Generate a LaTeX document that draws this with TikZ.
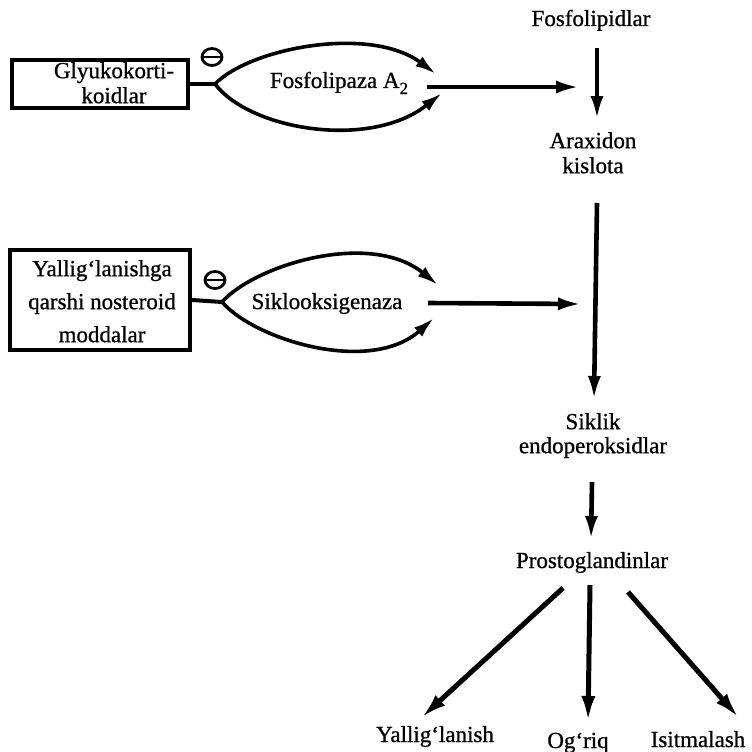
\documentclass[tikz,border=0pt]{standalone}
\usepackage{fontspec}
\setmainfont{Liberation Serif}[FakeBold=0.8]
\usetikzlibrary{arrows.meta}
\tikzset{
  lbl/.style={inner sep=0pt, font=\fontsize{23}{25}\selectfont, align=center},
  boxnode/.style={draw, line width=4pt, inner sep=0pt},
  lens/.style={line width=3.6pt, -{Latex[length=21pt,width=12pt]}},
  flow/.style={line width=4.6pt, -{Latex[length=24pt,width=13pt]}},
  branch/.style={line width=5pt, -{Latex[length=26pt,width=14pt]}},
  stub/.style={line width=4pt},
  minusring/.style={line width=2.8pt}
}
\begin{document}
\begin{tikzpicture}[x=1pt,y=-1pt]
\useasboundingbox (0,0) rectangle (752,752);
% main chain
\node[lbl, anchor=base] (fos) at (591,26) {Fosfolipidlar};
\node[lbl, anchor=north] (arax) at (593,132) {Araxidon\\kislota};
\node[lbl, anchor=north, font=\fontsize{23}{24}\selectfont] (sik) at (593,413) {Siklik\\endoperoksidlar};
\node[lbl, anchor=base] (pros) at (592,568) {Prostoglandinlar};
\node[lbl, anchor=base] (yal) at (435,742) {Yallig‘lanish};
\node[lbl, anchor=base] (ogr) at (578,748) {Og‘riq};
\node[lbl, anchor=base] (isi) at (698,747) {Isitmalash};
% boxes
\node[boxnode, minimum width=176pt, minimum height=48pt] (gk) at (100,84) {};
\node[lbl, anchor=north] (gkt) at (114,62) {Glyukokorti-\\koidlar};
\node[boxnode, minimum width=180pt, minimum height=100pt] (ns) at (100,300) {};
\node[lbl, anchor=north, font=\fontsize{23}{33}\selectfont] (nst) at (102,260) {Yallig‘lanishga\\qarshi nosteroid\\moddalar};
% enzymes
\node[lbl, anchor=base] (fla) at (339,88) {Fosfolipaza A\raisebox{-6pt}{\fontsize{17}{17}\selectfont 2}};
\node[lbl, anchor=base] (cox) at (327,309) {Siklooksigenaza};
% coordinates
\coordinate (t1) at (215,84);
\coordinate (u1) at (436,74);
\coordinate (l1) at (442,93);
\coordinate (h1s) at (427,87);
\coordinate (h1e) at (580,87);
\coordinate (t2) at (222,302);
\coordinate (u2) at (438,285);
\coordinate (l2) at (434,318);
\coordinate (h2s) at (428,303);
\coordinate (h2e) at (582,304);
\coordinate (a1s) at (597,48);
\coordinate (a1e) at (597,120);
\coordinate (a2s) at (597,203);
\coordinate (a2e) at (594,400);
\coordinate (a3s) at (592,482);
\coordinate (a3e) at (591,540);
\coordinate (b1s) at (563,588);
\coordinate (b1e) at (421,718);
\coordinate (b2s) at (590,585);
\coordinate (b2e) at (588,722);
\coordinate (b3s) at (628,592);
\coordinate (b3e) at (739,718);
\coordinate (m1) at (212,57);
\coordinate (m2) at (215,280);
% first lens
\draw[stub] (gk.east) -- (t1);
\draw[lens] (t1) .. controls (250,48) and (370,25) .. (u1);
\draw[lens] (t1) .. controls (250,130) and (370,150) .. (l1);
\draw[flow] (h1s) -- (h1e);
% second lens
\draw[stub] (ns.east) -- (t2);
\draw[lens] (t2) .. controls (255,265) and (370,230) .. (u2);
\draw[lens] (t2) .. controls (255,340) and (370,375) .. (l2);
\draw[flow] (h2s) -- (h2e);
% minus signs
\draw[minusring] (m1) ellipse [x radius=10, y radius=8.5];
\draw[minusring] (m1) ++(-9,0) -- ++(18,0);
\draw[minusring] (m2) ellipse [x radius=10, y radius=8.5];
\draw[minusring] (m2) ++(-9,0) -- ++(18,0);
% vertical arrows
\draw[flow] (a1s) -- (a1e);
\draw[flow] (a2s) -- (a2e);
\draw[flow] (a3s) -- (a3e);
% branches
\draw[branch] (b1s) -- (b1e);
\draw[branch] (b2s) -- (b2e);
\draw[branch] (b3s) -- (b3e);
\end{tikzpicture}
\end{document}
